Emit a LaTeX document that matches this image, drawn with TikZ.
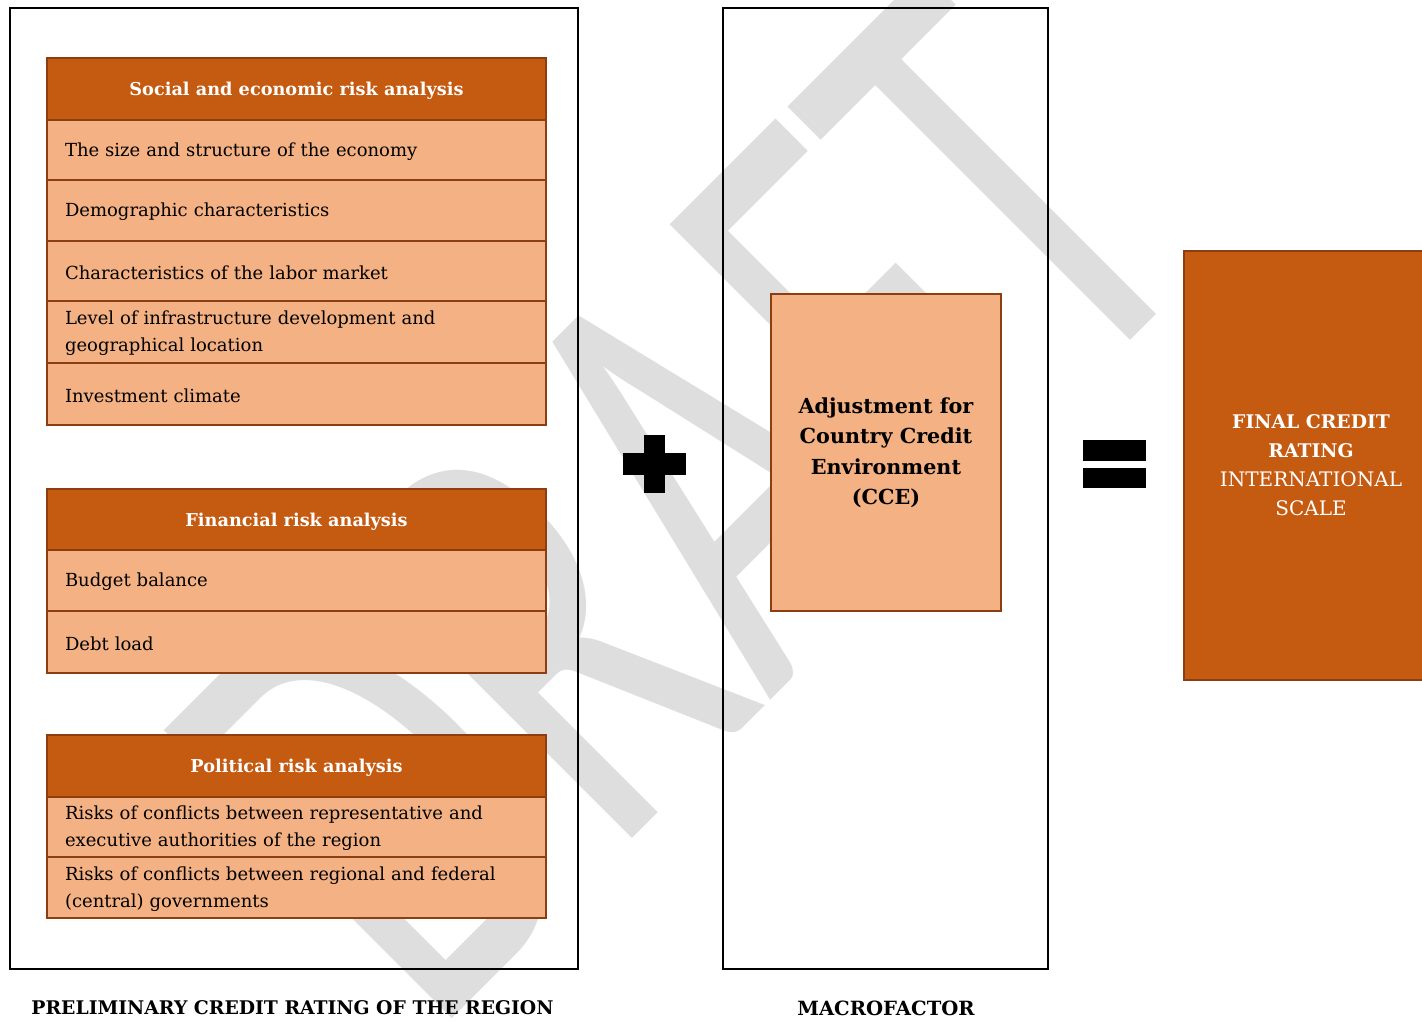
\documentclass[tikz,border=0pt]{standalone}
\usepackage{fontspec}
\setmainfont{DejaVu Serif}
\newfontfamily\wmfont{Carlito}
\definecolor{hdr}{RGB}{197,90,17}
\definecolor{rowc}{RGB}{244,177,131}
\definecolor{brd}{RGB}{140,62,16}
\definecolor{wm}{RGB}{222,222,222}
\begin{document}
\begin{tikzpicture}[x=1pt,y=-1pt,
  outerbox/.style={draw=black, line width=2pt, anchor=north west, inner sep=0pt},
  hdrbox/.style={draw=brd, line width=2pt, fill=hdr, minimum width=499pt, minimum height=62pt, anchor=north west, inner sep=0pt, text=white, text height=17pt, text depth=4pt, font=\bfseries\fontsize{17.7}{21}\selectfont},
  rowbox/.style={draw=brd, line width=2pt, fill=rowc, anchor=north west, inner xsep=18pt, inner ysep=0pt, text width=463pt, minimum width=499pt, align=left, font=\fontsize{18}{27}\selectfont, execute at begin node={\rule{0pt}{16.8pt}}},
  signbar/.style={fill=black, inner sep=0pt},
  lbl/.style={font=\bfseries\fontsize{18.8}{22}\selectfont, inner sep=0pt}]
\useasboundingbox (0,0) rectangle (1422,1021);
% watermark
\node[anchor=base west, inner sep=0pt, rotate=45, text=wm, font=\wmfont\fontsize{635}{635}\selectfont] (wmark) at (432,1039) {\scalebox{0.649}[1]{DRAFT}};
% outer frames
\node[outerbox, minimum width=568pt, minimum height=961pt] (prelim) at (9,7) {};
\node[outerbox, minimum width=325pt, minimum height=961pt] (macro) at (722,7) {};
% social block
\node[hdrbox] (soc) at (46,57) {Social and economic risk analysis};
\node[rowbox, minimum height=60pt] (s1) at (46,119) {The size and structure of the economy};
\node[rowbox, minimum height=61pt] (s2) at (46,179) {Demographic characteristics};
\node[rowbox, minimum height=60pt] (s3) at (46,240) {Characteristics of the labor market};
\node[rowbox, minimum height=62pt] (s4) at (46,300) {Level of infrastructure development and\\geographical location};
\node[rowbox, minimum height=62pt] (s5) at (46,362) {Investment climate};
% financial block
\node[hdrbox, minimum height=61pt] (fin) at (46,488) {Financial risk analysis};
\node[rowbox, minimum height=61pt] (f1) at (46,549) {Budget balance};
\node[rowbox, minimum height=62pt] (f2) at (46,610) {Debt load};
% political block
\node[hdrbox] (pol) at (46,734) {Political risk analysis};
\node[rowbox, minimum height=60pt] (p1) at (46,796) {Risks of conflicts between representative and\\executive authorities of the region};
\node[rowbox, minimum height=61pt] (p2) at (46,856) {Risks of conflicts between regional and federal\\(central) governments};
% CCE
\node[draw=brd, line width=2pt, fill=rowc, anchor=north west, minimum width=230pt, minimum height=317pt, inner sep=0pt, align=center, font=\bfseries\fontsize{20.7}{30.5}\selectfont] (cce) at (770,293) {Adjustment for\\Country Credit\\Environment\\(CCE)};
% final
\node[draw=brd, line width=2pt, fill=hdr, anchor=north west, minimum width=254pt, minimum height=429pt, inner sep=0pt, align=center, text=white, font=\fontsize{20}{29}\selectfont] (final) at (1183,250) {{\bfseries\fontsize{18.8}{29}\selectfont FINAL CREDIT}\\{\bfseries\fontsize{18.8}{29}\selectfont RATING}\\INTERNATIONAL\\SCALE};
% plus sign
\node[signbar, minimum width=63pt, minimum height=22pt] (plush) at (654.5,464) {};
\node[signbar, minimum width=21pt, minimum height=58pt] (plusv) at (654.5,464) {};
% equals sign
\node[signbar, minimum width=63pt, minimum height=21pt] (eqa) at (1114.5,450.5) {};
\node[signbar, minimum width=63pt, minimum height=20pt] (eqb) at (1114.5,478) {};
% labels
\node[lbl] (lblprelim) at (292.5,1008) {PRELIMINARY CREDIT RATING OF THE REGION};
\node[lbl, font=\bfseries\fontsize{19.6}{24}\selectfont] (lblmacro) at (886,1008) {MACROFACTOR};
\end{tikzpicture}
\end{document}
